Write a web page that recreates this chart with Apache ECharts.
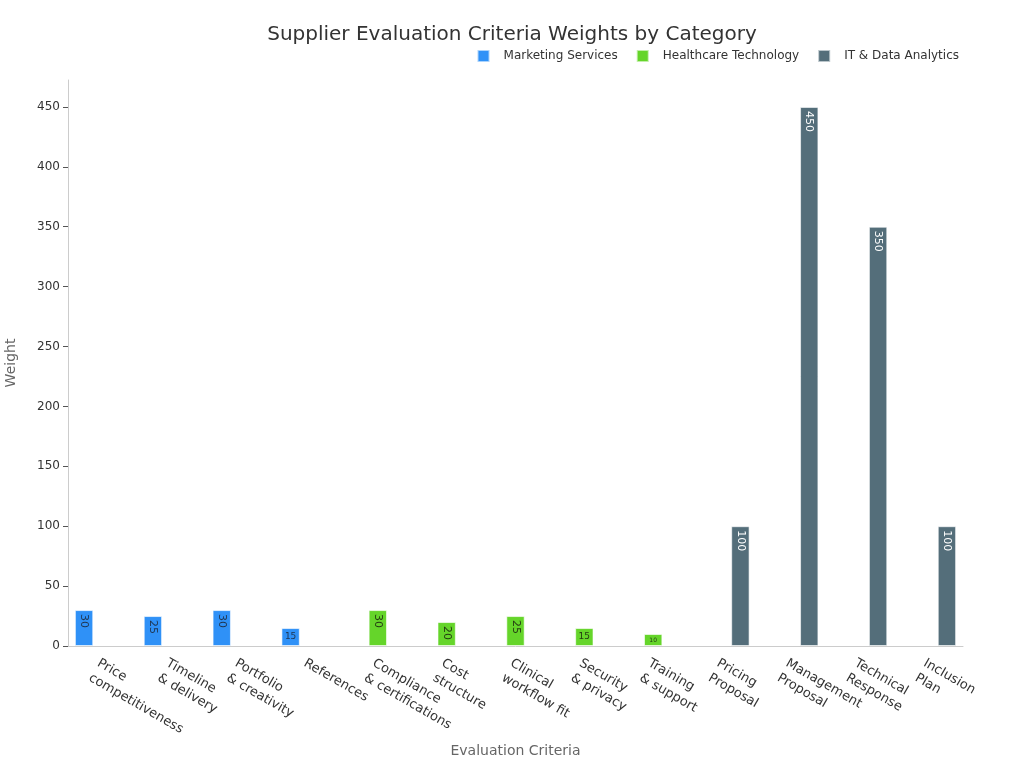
<!DOCTYPE html>
<html>
<head>
<meta charset="utf-8">
<title>Supplier Evaluation Criteria Weights</title>
<script src="https://cdn.jsdelivr.net/npm/echarts@6/dist/echarts.min.js"></script>
<style>
  html, body { margin: 0; padding: 0; background: #fff; }
  #chart { width: 1024px; height: 768px; }
</style>
</head>
<body>
<div id="chart"></div>
<script>
// categories (line breaks as in the picture)
var criteria = [
  'Price\ncompetitiveness', 'Timeline\n& delivery', 'Portfolio\n& creativity', 'References',
  'Compliance\n& certifications', 'Cost\nstructure', 'Clinical\nworkflow fit', 'Security\n& privacy',
  'Training\n& support', 'Pricing\nProposal', 'Management\nProposal', 'Technical\nResponse', 'Inclusion\nPlan'
];
var marketing  = [30, 25, 30, 15, null, null, null, null, null, null, null, null, null];
var healthcare = [null, null, null, null, 30, 20, 25, 15, 10, null, null, null, null];
var itData     = [null, null, null, null, null, null, null, null, null, 100, 450, 350, 100];
var yTicks = [0, 50, 100, 150, 200, 250, 300, 350, 400, 450];

var font = 'DejaVu Sans';

// small bars get a flat, smaller label
function items(arr) {
  return arr.map(function (v) {
    if (v == null) return null;
    if (v <= 15) {
      return { value: v, label: { position: 'inside', rotate: 0, align: 'center', verticalAlign: 'middle',
        fontSize: v <= 10 ? 6 : 9 } };
    }
    return v;
  });
}

function barSeries(name, arr, color, labelColor) {
  return {
    name: name,
    type: 'bar',
    barGap: '0%',
    barCategoryGap: '20%',
    itemStyle: { color: color, borderColor: 'rgba(255,255,255,0.6)', borderWidth: 1 },
    label: {
      show: true, position: 'insideTop', rotate: -90, align: 'left', verticalAlign: 'middle',
      distance: 4, color: labelColor, fontSize: 11, fontFamily: font
    },
    data: items(arr)
  };
}

var option = {
  backgroundColor: '#fff',
  textStyle: { fontFamily: font },
  title: {
    text: 'Supplier Evaluation Criteria Weights by Category',
    left: 'center', top: 20,
    textStyle: { fontSize: 20, fontWeight: 'normal', color: '#333', fontFamily: font }
  },
  legend: {
    right: 60, top: 44,
    itemWidth: 12, itemHeight: 12, itemGap: 18,
    icon: 'rect',
    textStyle: { fontSize: 12, color: '#333', fontFamily: font, padding: [0, 0, 0, 9] },
    data: ['Marketing Services', 'Healthcare Technology', 'IT & Data Analytics']
  },
  grid: { left: 68, right: 61, top: 80, bottom: 122, outerBoundsMode: 'none' },
  xAxis: {
    type: 'category',
    data: criteria,
    name: 'Evaluation Criteria',
    nameLocation: 'middle',
    nameGap: 98,
    nameTextStyle: { fontSize: 14, color: '#666', fontFamily: font },
    axisLine: { lineStyle: { color: '#ccc' } },
    axisTick: { alignWithLabel: true, lineStyle: { color: '#555' } },
    axisLabel: {
      rotate: -30, interval: 0, fontSize: 13, lineHeight: 17, color: '#333', fontFamily: font,
      margin: 9, verticalAlign: 'top'
    }
  },
  yAxis: {
    type: 'value',
    min: 0, max: 472.5, interval: 50,
    name: 'Weight',
    nameLocation: 'middle',
    nameGap: 50,
    nameTextStyle: { fontSize: 14, color: '#666', fontFamily: font },
    splitLine: { show: false },
    axisLine: { show: true, lineStyle: { color: '#ccc' } },
    axisTick: { show: true, length: 5, customValues: yTicks, lineStyle: { color: '#555' } },
    axisLabel: { customValues: yTicks, fontSize: 12, color: '#333', fontFamily: font, margin: 8 }
  },
  series: [
    barSeries('Marketing Services', marketing, '#2f91f7', '#1f3550'),
    barSeries('Healthcare Technology', healthcare, '#65d52a', '#243d12'),
    barSeries('IT & Data Analytics', itData, '#546e7a', '#ffffff')
  ]
};

var chart = echarts.init(document.getElementById('chart'));
chart.setOption(option);
</script>
</body>
</html>
